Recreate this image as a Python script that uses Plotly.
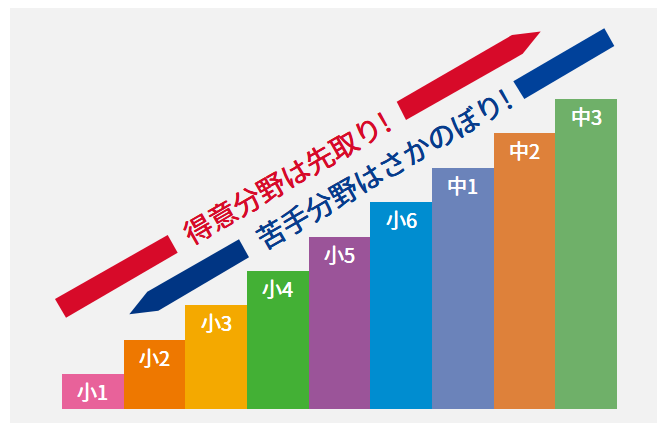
import plotly.graph_objects as go

# ---- data ----
grades = ["小1", "小2", "小3", "小4", "小5", "小6", "中1", "中2", "中3"]
levels = [1, 2, 3, 4, 5, 6, 7, 8, 9]
bar_colors = ["#e8629a", "#ee7800", "#f4a900", "#43b035", "#9b5499",
              "#008dd0", "#6b83ba", "#de813a", "#6fb069"]
slogan_up = "得意分野は先取り!"
slogan_down = "苦手分野はさかのぼり!"

W, H = 665, 423
OFF = 8                          # page body margin in the screenshot
L, T, R, B = 10, 8, 661, 431     # gray panel in screen pixels
FONT = "Noto Sans CJK JP"


def pp(px, py):
    return (px - L) / (R - L), (B - py) / (B - T)


def path(points):
    s = []
    for i, (px, py) in enumerate(points):
        x, y = pp(px, py)
        s.append(("M" if i == 0 else "L") + f"{x:.5f},{y:.5f}")
    return " ".join(s) + " Z"


def medium(col, d=0.25):
    return f"{d}px 0 0 {col}, -{d}px 0 0 {col}"


fig = go.Figure()
fig.add_trace(go.Bar(
    x=grades, y=levels, width=1,
    marker=dict(color=bar_colors, line=dict(width=0)),
    hoverinfo="skip", showlegend=False,
))

for g, v in zip(grades, levels):
    fig.add_annotation(x=g, y=v, text=g, showarrow=False, yshift=-17.5,
                       xanchor="center", yanchor="middle",
                       font=dict(family=FONT, size=20, color="white", weight="normal",
                                 shadow=medium("white", 0.3)))

red = "#d70a29"
blue1 = "#003583"
blue2 = "#00419a"
blue_txt = "#073c8c"
shapes = [
    dict(type="path", xref="paper", yref="paper", layer="above",
         path=path([(55, 299), (167.7, 235), (177.7, 252.7), (66, 317.7)]),
         fillcolor=red, line=dict(width=0)),
    dict(type="path", xref="paper", yref="paper", layer="above",
         path=path([(396.7, 101.7), (512, 35), (540.7, 31.5), (522.7, 53.8), (406, 120)]),
         fillcolor=red, line=dict(width=0)),
    dict(type="path", xref="paper", yref="paper", layer="above",
         path=path([(129.3, 314.3), (147.3, 291.7), (239, 239.3), (249, 257.3), (158.3, 310.7)]),
         fillcolor=blue1, line=dict(width=0)),
    dict(type="path", xref="paper", yref="paper", layer="above",
         path=path([(513.3, 81.3), (604.3, 28.3), (614.3, 45.9), (524.3, 99)]),
         fillcolor=blue2, line=dict(width=0)),
]

for txt, (cx, cy), col in [(slogan_up, (286, 177), red), (slogan_down, (383, 168), blue_txt)]:
    x, y = pp(cx, cy)
    fig.add_annotation(xref="paper", yref="paper", x=x, y=y, text=txt,
                       showarrow=False, textangle=-30,
                       xanchor="center", yanchor="middle",
                       font=dict(family=FONT, size=28, color=col, weight="normal",
                                 shadow=medium(col, 0.3)))

fig.update_layout(
    width=W, height=H,
    margin=dict(l=L - OFF, r=W - (R - OFF), t=T - OFF, b=H - (B - OFF), pad=0),
    paper_bgcolor="white", plot_bgcolor="#f2f2f2",
    bargap=0, shapes=shapes,
    xaxis=dict(range=[(L - 92.83) / 61.67, (R - 92.83) / 61.67], visible=False,
               fixedrange=True),
    yaxis=dict(range=[-(B - 408.7) / 34.41, (408.7 - T) / 34.41], visible=False,
               fixedrange=True),
)

fig.write_html("out.html")
